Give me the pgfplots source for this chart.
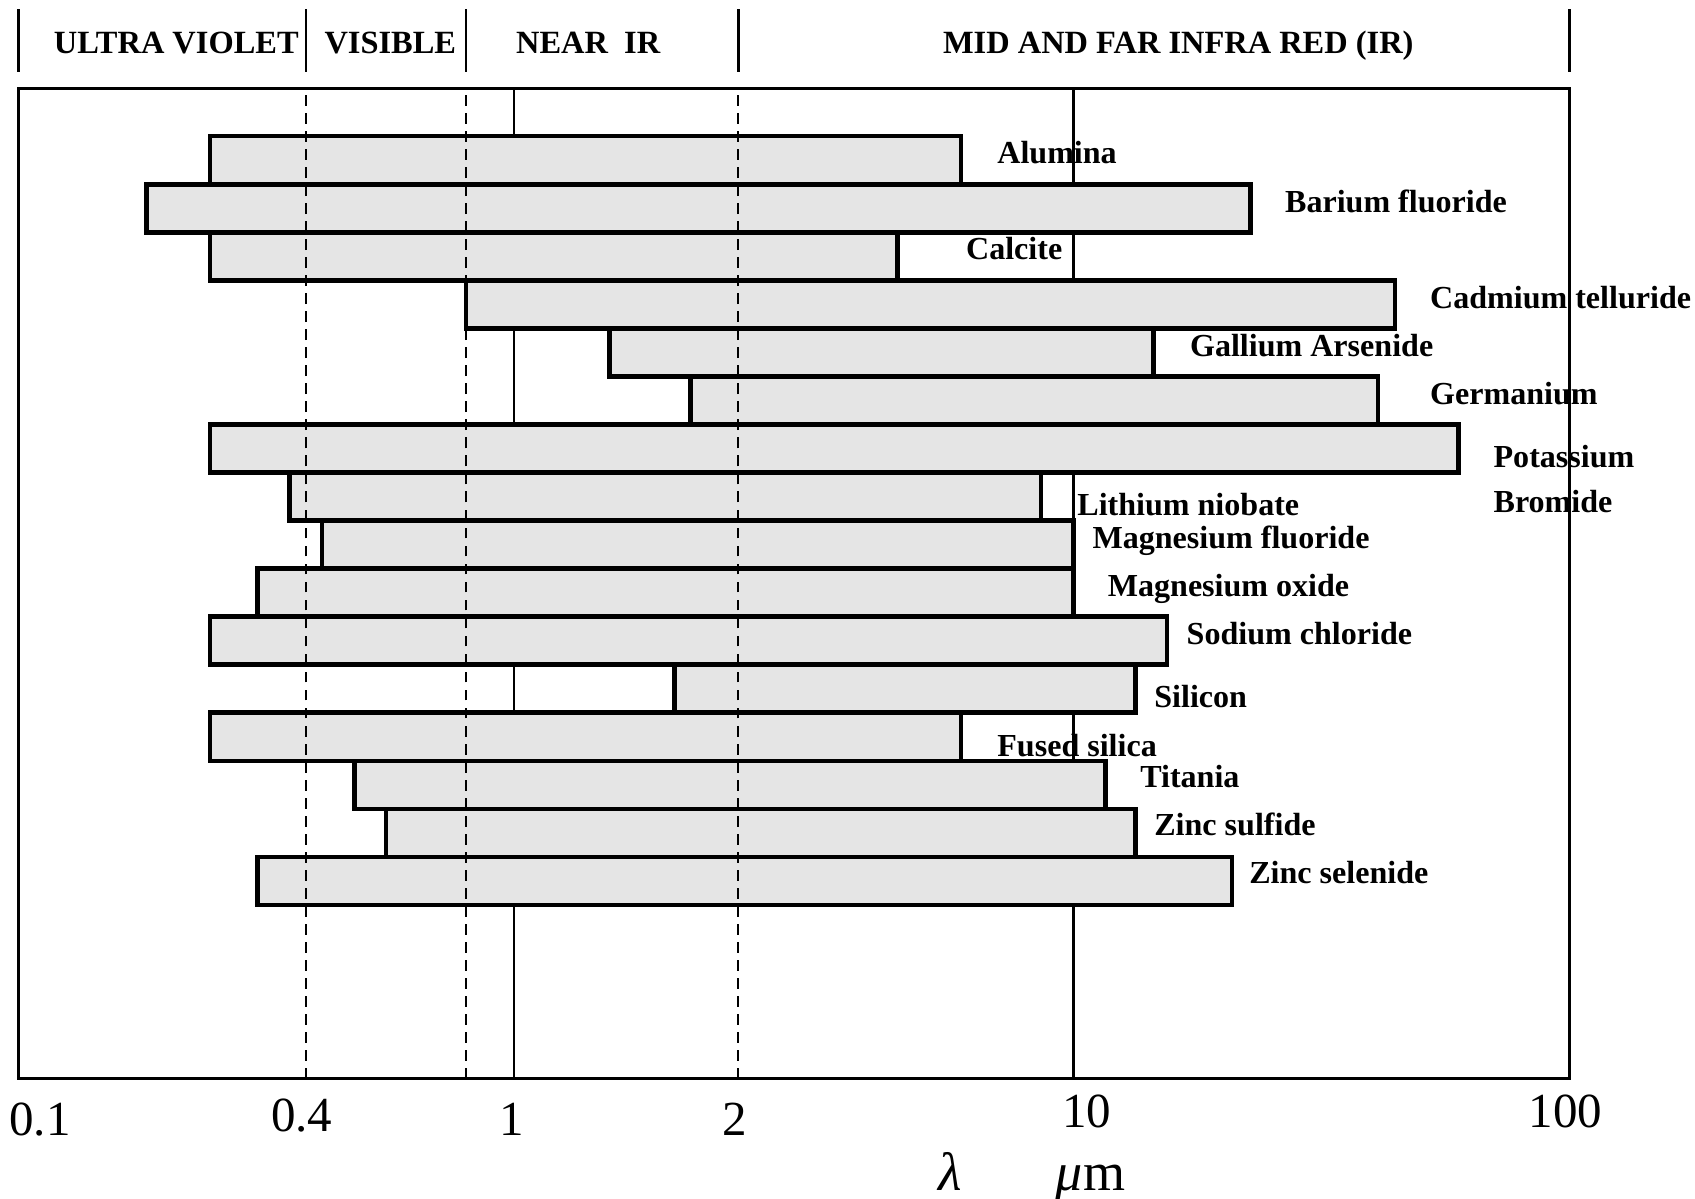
\documentclass[border=0pt]{standalone}
\usepackage{fontspec}
\setmainfont{Liberation Serif}
\usepackage{pgfplots}
\pgfplotsset{compat=1.18}
\definecolor{barfill}{RGB}{229,229,229}
\tikzset{
  matbar/.style={fill=barfill, draw=black, line width=1.25pt, line join=miter},
  lbl/.style={anchor=base west, inner sep=0pt, font=\bfseries\fontsize{8.9}{10}\selectfont},
  band/.style={anchor=base, inner sep=0pt, font=\bfseries\fontsize{9}{10}\selectfont},
}
\begin{document}
\begin{tikzpicture}[x=0.3pt,y=0.3pt]
\begin{axis}[
  xmode=log, scale only axis, width=430.5pt, height=274.8pt,
  xmin=0.1305, xmax=76.9, ymin=-19.12, ymax=1.49,
  axis line style={line width=0.8pt},
  ytick=\empty,
  xtick={0.1427,0.4183,0.991,2.488,10.55,75.6},
  xticklabels={0.1,\raisebox{1pt}{0.4},1,2,\raisebox{2pt}{10},\raisebox{2pt}{100}},
  xminorticks=false,
  major tick length=0pt,
  tick style={draw=none},
  /pgf/number format/assume math mode=true,
  xticklabel style={font=\fontsize{13.6}{15}\selectfont, anchor=base, yshift=-15.6pt, inner sep=0pt},
  clip=false,
  every axis plot/.append style={mark=none},
]
% grid lines at 1 and 10 (behind the bars)
\addplot[line width=0.6pt] coordinates {(1,-19.12) (1,1.49)};
\addplot[line width=0.6pt] coordinates {(10,-19.12) (10,1.49)};

% transmission ranges (micrometres): lower and upper limits
\addplot[matbar] coordinates {(0.287,0.5) (6.30,0.5) (6.30,-0.5) (0.287,-0.5)} -- cycle;      % Alumina
\addplot[matbar] coordinates {(0.221,-0.5) (20.7,-0.5) (20.7,-1.5) (0.221,-1.5)} -- cycle;    % Barium fluoride
\addplot[matbar] coordinates {(0.287,-1.5) (4.85,-1.5) (4.85,-2.5) (0.287,-2.5)} -- cycle;    % Calcite
\addplot[matbar] coordinates {(0.822,-2.5) (37.5,-2.5) (37.5,-3.5) (0.822,-3.5)} -- cycle;    % Cadmium telluride
\addplot[matbar] coordinates {(1.485,-3.5) (13.9,-3.5) (13.9,-4.5) (1.485,-4.5)} -- cycle;    % Gallium arsenide
\addplot[matbar] coordinates {(2.07,-4.5) (35.0,-4.5) (35.0,-5.5) (2.07,-5.5)} -- cycle;      % Germanium
\addplot[matbar] coordinates {(0.287,-5.5) (48.7,-5.5) (48.7,-6.5) (0.287,-6.5)} -- cycle;    % Potassium bromide
\addplot[matbar] coordinates {(0.398,-6.5) (8.75,-6.5) (8.75,-7.5) (0.398,-7.5)} -- cycle;    % Lithium niobate
\addplot[matbar] coordinates {(0.455,-7.5) (10.0,-7.5) (10.0,-8.5) (0.455,-8.5)} -- cycle;    % Magnesium fluoride
\addplot[matbar] coordinates {(0.349,-8.5) (10.0,-8.5) (10.0,-9.5) (0.349,-9.5)} -- cycle;    % Magnesium oxide
\addplot[matbar] coordinates {(0.287,-9.5) (14.7,-9.5) (14.7,-10.5) (0.287,-10.5)} -- cycle;  % Sodium chloride
\addplot[matbar] coordinates {(1.94,-10.5) (12.9,-10.5) (12.9,-11.5) (1.94,-11.5)} -- cycle;  % Silicon
\addplot[matbar] coordinates {(0.287,-11.5) (6.30,-11.5) (6.30,-12.5) (0.287,-12.5)} -- cycle;% Fused silica
\addplot[matbar] coordinates {(0.520,-12.5) (11.4,-12.5) (11.4,-13.5) (0.520,-13.5)} -- cycle;% Titania
\addplot[matbar] coordinates {(0.592,-13.5) (12.9,-13.5) (12.9,-14.5) (0.592,-14.5)} -- cycle;% Zinc sulfide
\addplot[matbar] coordinates {(0.349,-14.5) (19.2,-14.5) (19.2,-15.5) (0.349,-15.5)} -- cycle;% Zinc selenide

% region boundaries (dashed, over the bars)
\addplot[line width=0.6pt, dash pattern=on 3pt off 2pt] coordinates {(0.426,-19.12) (0.426,1.49)};
\addplot[line width=0.6pt, dash pattern=on 3pt off 2pt] coordinates {(0.822,-19.12) (0.822,1.49)};
\addplot[line width=0.6pt, dash pattern=on 3pt off 2pt] coordinates {(2.52,-19.12) (2.52,1.49)};

% band header separators
\addplot[line width=0.7pt] coordinates {(0.1305,3.141) (0.1305,1.843)};
\addplot[line width=0.7pt] coordinates {(0.426,3.141) (0.426,1.843)};
\addplot[line width=0.7pt] coordinates {(0.822,3.141) (0.822,1.843)};
\addplot[line width=0.7pt] coordinates {(2.52,3.141) (2.52,1.843)};
\addplot[line width=0.7pt] coordinates {(76.9,3.141) (76.9,1.843)};

\node[band] at (axis cs:0.2498,2.225) {ULTRA VIOLET};
\node[band] at (axis cs:0.6024,2.225) {VISIBLE};
\node[band] at (axis cs:1.359,2.225) {NEAR\ \ IR};
\node[band] at (axis cs:15.39,2.225) {MID AND FAR INFRA RED (IR)};

% material labels
\node[lbl] at (axis cs:7.29,-0.063) {Alumina};
\node[lbl] at (axis cs:23.8,-1.085) {Barium fluoride};
\node[lbl] at (axis cs:6.41,-2.063) {Calcite};
\node[lbl] at (axis cs:43.2,-3.083) {Cadmium telluride};
\node[lbl] at (axis cs:16.1,-4.075) {Gallium Arsenide};
\node[lbl] at (axis cs:43.2,-5.074) {Germanium};
\node[lbl] at (axis cs:56.1,-6.400) {Potassium};
\node[lbl] at (axis cs:56.1,-7.336) {Bromide};
\node[lbl] at (axis cs:10.13,-7.385) {Lithium niobate};
\node[lbl] at (axis cs:10.78,-8.078) {Magnesium fluoride};
\node[lbl] at (axis cs:11.48,-9.071) {Magnesium oxide};
\node[lbl] at (axis cs:15.88,-10.070) {Sodium chloride};
\node[lbl] at (axis cs:13.90,-11.388) {Silicon};
\node[lbl] at (axis cs:7.29,-12.403) {Fused silica};
\node[lbl] at (axis cs:13.12,-13.053) {Titania};
\node[lbl] at (axis cs:13.90,-14.046) {Zinc sulfide};
\node[lbl] at (axis cs:20.54,-15.052) {Zinc selenide};

% axis label
\node[anchor=base, inner sep=0pt, font=\fontsize{15}{17}\selectfont\itshape] at (axis cs:6.026,-21.44) {λ};
\node[anchor=base west, inner sep=0pt, font=\fontsize{15}{17}\selectfont] at (axis cs:9.274,-21.44) {{\itshape μ}m};
\end{axis}
\pgfresetboundingbox
\path (-17,-111) rectangle (1551,998);
\end{tikzpicture}
\end{document}
